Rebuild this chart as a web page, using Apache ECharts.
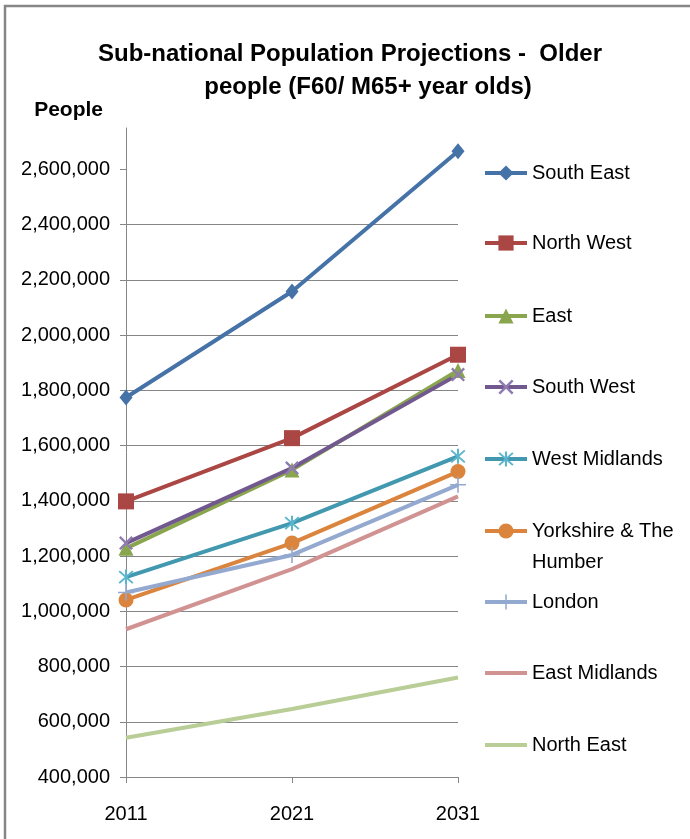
<!DOCTYPE html>
<html>
<head>
<meta charset="utf-8">
<script src="https://cdn.jsdelivr.net/npm/echarts@6/dist/echarts.min.js"></script>
<style>
html,body{margin:0;padding:0;background:#fff;}
#chart{width:690px;height:839px;}
</style>
</head>
<body>
<div id="chart"></div>
<script>
var years = ['2011', '2021', '2031'];
var southEast    = [1774000, 2158000, 2666000];
var northWest    = [1398000, 1627000, 1929000];
var east         = [1228000, 1512000, 1872000];
var southWest    = [1247000, 1519000, 1857000];
var westMidlands = [1124000, 1319000, 1561000];
var yorkshire    = [1041000, 1247000, 1506000];
var london       = [1068000, 1204000, 1458000];
var eastMidlands = [935000, 1153000, 1416000];
var northEast    = [542000, 646000, 760000];
var yTicks = [400000, 600000, 800000, 1000000, 1200000, 1400000, 1600000, 1800000, 2000000, 2200000, 2400000, 2600000];
var titleLines = ['Sub-national Population Projections -  Older', 'people (F60/ M65+ year olds)'];

var FONT = '"Liberation Sans", Arial, sans-serif';
var SYM_X = 'path://M0,1.2L1.2,0L10,8.8L8.8,10Z M8.8,0L10,1.2L1.2,10L0,8.8Z';
var SYM_AST = 'path://M4.4,0L5.6,0L5.6,10L4.4,10Z M0.6,1.4L1.4,0.6L9.4,8.6L8.6,9.4Z M8.6,0.6L9.4,1.4L1.4,9.4L0.6,8.6Z';
var SYM_PLUS = 'path://M4.5,0L5.5,0L5.5,10L4.5,10Z M0,4.5L10,4.5L10,5.5L0,5.5Z';
var LINE_ICON = 'path://M0,0L42,0L42,4L0,4Z';

var seriesDefs = [
  {name: 'South East', data: southEast, color: '#4572A7', symbol: 'diamond', size: [13, 16], legendY: 173},
  {name: 'North West', data: northWest, color: '#AA4643', symbol: 'rect', size: 16, legendY: 243},
  {name: 'East', data: east, color: '#89A54E', symbol: 'triangle', size: 15, legendY: 316},
  {name: 'South West', data: southWest, color: '#71588F', symbol: SYM_X, size: 14, legendY: 387, symColor: '#8F7BB0'},
  {name: 'West Midlands', data: westMidlands, color: '#4198AF', symbol: SYM_AST, size: 15, legendY: 459, symColor: '#5BB5CC'},
  {name: 'Yorkshire & The Humber', data: yorkshire, color: '#DB843D', symbol: 'circle', size: 15, legendY: 531, twoLine: true},
  {name: 'London', data: london, color: '#93A9CF', symbol: SYM_PLUS, size: 16, legendY: 602},
  {name: 'East Midlands', data: eastMidlands, color: '#D19392', symbol: 'none', size: 0, legendY: 673},
  {name: 'North East', data: northEast, color: '#B9CD96', symbol: 'none', size: 0, legendY: 745}
];

var series = seriesDefs.map(function (d) {
  return {
    name: d.name,
    type: 'line',
    data: d.data,
    symbol: d.symbol,
    symbolSize: d.size,
    showSymbol: d.symbol !== 'none',
    color: d.color,
    lineStyle: {width: 4, color: d.color},
    itemStyle: {color: d.symColor || d.color},
    emphasis: {disabled: true},
    animation: false
  };
});

var legends = seriesDefs.map(function (d) {
  var noSym = d.symbol === 'none';
  var lg = {
    data: [noSym ? {name: d.name, icon: LINE_ICON} : d.name],
    orient: 'vertical',
    left: noSym ? 485 : 483,
    top: d.twoLine ? d.legendY - 46.5 : d.legendY - 12,
    padding: 0,
    itemWidth: 42,
    itemHeight: noSym ? 4 : 19,
    itemGap: 0,
    selectedMode: false,
    lineStyle: {width: 4},
    textStyle: {fontFamily: FONT, fontSize: 20, color: '#000', lineHeight: 24}
  };
  if (d.twoLine) {
    lg.formatter = function () { return '{e| }\n{a|Yorkshire & The}\n{a|Humber}'; };
    lg.textStyle.rich = {
      e: {fontFamily: FONT, fontSize: 20, lineHeight: 31},
      a: {fontFamily: FONT, fontSize: 20, color: '#000', lineHeight: 31}
    };
  }
  return lg;
});

var titleStyle = {fontFamily: FONT, fontSize: 24, fontWeight: 'bold', color: '#000', lineHeight: 33};

var chart = echarts.init(document.getElementById('chart'), null, {renderer: 'canvas'});
chart.setOption({
  backgroundColor: '#fff',
  animation: false,
  title: [
    {text: titleLines[0], left: 350, top: 38, textAlign: 'center', padding: 0, textStyle: titleStyle},
    {text: titleLines[1], left: 368, top: 71, textAlign: 'center', padding: 0, textStyle: titleStyle}
  ],
  graphic: [{
    type: 'rect',
    shape: {x: 5, y: 6, width: 720, height: 860},
    style: {fill: 'none', stroke: '#868686', lineWidth: 2.5},
    z: -1
  }],
  legend: legends,
  grid: {left: 126, right: 232, top: 128, bottom: 62, containLabel: false},
  xAxis: {
    type: 'category',
    data: years,
    boundaryGap: false,
    axisLine: {lineStyle: {color: '#868686', width: 1}},
    axisTick: {show: true, length: 6, lineStyle: {color: '#868686'}},
    axisLabel: {fontFamily: FONT, fontSize: 20, color: '#000', margin: 27},
    splitLine: {show: false}
  },
  yAxis: {
    type: 'value',
    min: 400000,
    max: 2750000,
    interval: 200000,
    name: 'People',
    nameLocation: 'end',
    nameGap: 18,
    nameTextStyle: {fontFamily: FONT, fontSize: 21, fontWeight: 'bold', color: '#000', align: 'right', verticalAlign: 'middle', padding: [0, 23, 0, 0]},
    axisLine: {show: true, lineStyle: {color: '#868686', width: 1}},
    axisTick: {show: true, length: 6, lineStyle: {color: '#868686'}, customValues: yTicks},
    axisLabel: {
      fontFamily: FONT, fontSize: 20, color: '#000', margin: 16,
      customValues: yTicks,
      formatter: function (v) { return v.toLocaleString('en-US'); }
    },
    splitLine: {show: true, showMaxLine: false, lineStyle: {color: '#868686', width: 1}}
  },
  series: series
});
</script>
</body>
</html>
